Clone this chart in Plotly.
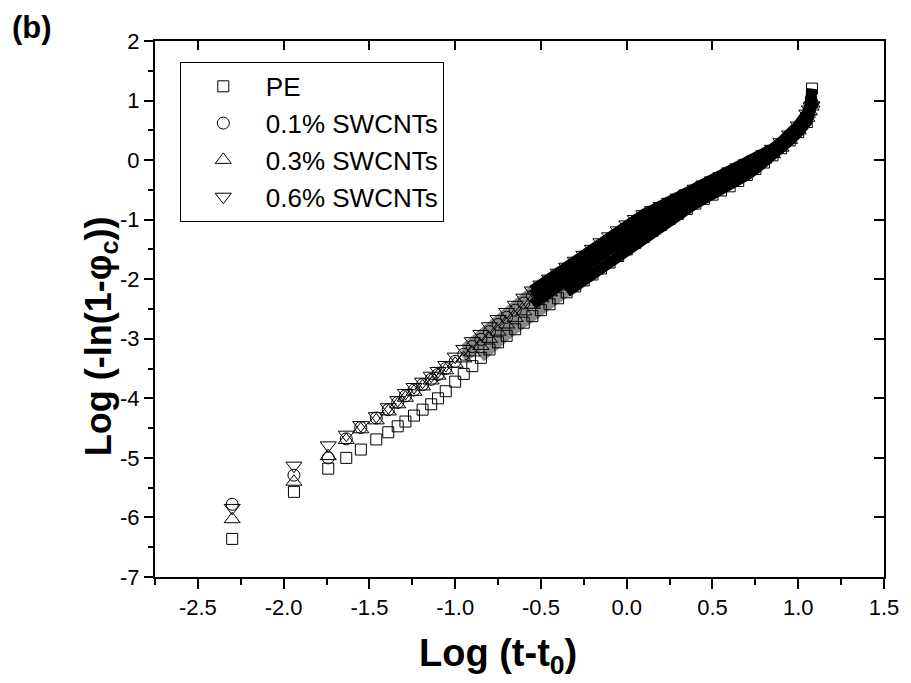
import plotly.graph_objects as go

# Avrami plot, log(-ln(1-phi_c)) vs log(t-t0)
log_t = [-2.30, -1.94, -1.74, -1.635, -1.55, -1.46, -1.39, -1.335, -1.29, -1.24,
         -1.19, -1.14, -1.10, -1.055,
         -1.00, -0.95, -0.90, -0.85, -0.80, -0.75, -0.70, -0.65, -0.60, -0.55,
         -0.50, -0.45, -0.40, -0.35, -0.30, -0.25, -0.20, -0.15, -0.10, -0.05,
         0.00, 0.05, 0.10, 0.15, 0.20, 0.25, 0.30, 0.35, 0.40, 0.45,
         0.50, 0.55, 0.60, 0.65, 0.70, 0.75, 0.80, 0.85, 0.90, 0.95,
         1.00, 1.05, 1.065, 1.075, 1.08]

pe = [-6.36, -5.57, -5.18, -5.00, -4.86, -4.69, -4.57, -4.47, -4.39, -4.29,
      -4.19, -4.10, -4.00, -3.88,
      -3.72, -3.59, -3.46, -3.32, -3.18, -3.06, -2.95, -2.84, -2.73, -2.62,
      -2.52, -2.42, -2.32, -2.22, -2.12, -2.02, -1.92, -1.82, -1.72, -1.61,
      -1.50, -1.39, -1.29, -1.19, -1.09, -0.99, -0.90, -0.82, -0.73, -0.65,
      -0.58, -0.51, -0.44, -0.35, -0.25, -0.15, -0.04, 0.08, 0.20, 0.33,
      0.47, 0.64, 0.80, 0.98, 1.20]

swcnt_01 = [-5.78, -5.29, -5.00, -4.68, -4.49, -4.33, -4.19, -4.07, -3.96, -3.86,
            -3.77, -3.68, -3.60, -3.50,
            -3.38, -3.26, -3.13, -3.01, -2.88, -2.76, -2.64, -2.52, -2.40, -2.28,
            -2.18, -2.08, -1.98, -1.88, -1.78, -1.68, -1.58, -1.47, -1.37, -1.27,
            -1.17, -1.08, -1.00, -0.93, -0.86, -0.79, -0.72, -0.65, -0.57, -0.50,
            -0.43, -0.35, -0.27, -0.19, -0.12, -0.04, 0.05, 0.14, 0.25, 0.38,
            0.53, 0.74, 0.84, 0.92, 0.97]

swcnt_03 = [-6.03, -5.40, -4.97, -4.70, -4.52, -4.37, -4.22, -4.10, -3.99, -3.89,
            -3.80, -3.70, -3.62, -3.53,
            -3.42, -3.33, -3.23, -3.12, -3.00, -2.88, -2.76, -2.65, -2.54, -2.43,
            -2.32, -2.22, -2.12, -2.02, -1.92, -1.81, -1.71, -1.60, -1.50, -1.40,
            -1.30, -1.20, -1.11, -1.03, -0.95, -0.87, -0.79, -0.71, -0.63, -0.55,
            -0.48, -0.40, -0.32, -0.24, -0.16, -0.08, 0.01, 0.10, 0.21, 0.34,
            0.50, 0.71, 0.82, 0.90, 0.95]

swcnt_06 = [-5.84, -5.13, -4.79, -4.61, -4.45, -4.30, -4.15, -4.03, -3.91, -3.81,
            -3.72, -3.62, -3.54, -3.44,
            -3.30, -3.17, -3.04, -2.92, -2.79, -2.67, -2.55, -2.43, -2.31, -2.19,
            -2.09, -1.99, -1.89, -1.79, -1.69, -1.59, -1.49, -1.38, -1.28, -1.18,
            -1.08, -0.99, -0.91, -0.84, -0.77, -0.70, -0.63, -0.56, -0.48, -0.41,
            -0.34, -0.27, -0.19, -0.12, -0.05, 0.02, 0.10, 0.19, 0.30, 0.43,
            0.58, 0.78, 0.85, 0.90, 0.92]

x_ticks = [-2.5, -2.0, -1.5, -1.0, -0.5, 0.0, 0.5, 1.0, 1.5]
x_labels = ['-2.5', '-2.0', '-1.5', '-1.0', '-0.5', '0.0', '0.5', '1.0', '1.5']
y_ticks = [2, 1, 0, -1, -2, -3, -4, -5, -6, -7]
y_labels = ['2', '1', '0', '-1', '-2', '-3', '-4', '-5', '-6', '-7']

# name, values, symbol, size, where the points start to blur (grey), turn solid (black)
series = [
    ('PE', pe, 'square-open', 11, -0.85, -0.35),
    ('0.1% SWCNTs', swcnt_01, 'circle-open', 12, -0.95, -0.55),
    ('0.3% SWCNTs', swcnt_03, 'triangle-up-open', 14, -0.95, -0.55),
    ('0.6% SWCNTs', swcnt_06, 'triangle-down-open', 14, -0.95, -0.55),
]

FONT = 'Liberation Sans, Arial, sans-serif'
X_RANGE = [-2.75, 1.5]
Y_RANGE = [-7, 2]

fig = go.Figure()

# later points sit so close together in the original that the outlines
# merge into a band: grey where still striped, black once solid
for name, y, sym, size, grey_at, black_at in series:
    g = log_t.index(grey_at)
    b = log_t.index(black_at)
    fig.add_trace(go.Scatter(x=log_t[g:b + 1], y=y[g:b + 1], mode='lines',
                             line=dict(color='#8a8a8a', width=9),
                             showlegend=False, hoverinfo='skip'))
for name, y, sym, size, grey_at, black_at in series:
    b = log_t.index(black_at)
    fig.add_trace(go.Scatter(x=log_t[b:], y=y[b:], mode='lines',
                             line=dict(color='black', width=11),
                             showlegend=False, hoverinfo='skip'))

for name, y, sym, size, grey_at, black_at in series:
    fig.add_trace(go.Scatter(x=log_t, y=y, mode='markers', name=name,
                             marker=dict(symbol=sym, size=size, color='black',
                                         line=dict(width=1, color='black'))))

# empty trace so the top/right tick axes get drawn
fig.add_trace(go.Scatter(x=[], y=[], xaxis='x2', yaxis='y2', showlegend=False,
                         hoverinfo='skip'))

axis_common = dict(showline=True, linewidth=2, linecolor='black', mirror=True,
                   showgrid=False, zeroline=False, tickcolor='black', tickwidth=2)

fig.update_layout(
    width=903, height=675,
    margin=dict(l=147, r=24, t=33, b=106),
    plot_bgcolor='white', paper_bgcolor='white',
    font=dict(family=FONT, color='black', size=22),
    showlegend=True,
    legend=dict(x=0.034, y=0.961, xanchor='left', yanchor='top',
                bordercolor='black', borderwidth=1, bgcolor='white',
                font=dict(size=26), itemwidth=75, tracegroupgap=0),
    xaxis=dict(range=X_RANGE, tickvals=x_ticks, ticktext=x_labels,
               ticks='outside', ticklen=10,
               minor=dict(dtick=0.25, tick0=-2.5, ticks='outside', ticklen=6,
                          tickwidth=2, tickcolor='black'),
               tickfont=dict(size=22), **axis_common),
    yaxis=dict(range=Y_RANGE, tickvals=y_ticks, ticktext=y_labels,
               ticks='outside', ticklen=9,
               minor=dict(dtick=0.5, ticks='outside', ticklen=5,
                          tickwidth=2, tickcolor='black'),
               tickfont=dict(size=22), **axis_common),
    # ticks on the top and right frame point inwards
    xaxis2=dict(range=X_RANGE, overlaying='x', side='top', tickvals=x_ticks,
                ticks='inside', ticklen=9, showticklabels=False, **axis_common),
    yaxis2=dict(range=Y_RANGE, overlaying='y', side='right', tickvals=y_ticks,
                ticks='inside', ticklen=10, showticklabels=False, **axis_common),
)

fig.add_annotation(text='<b>Log (-ln(1-φ<sub>c</sub>))</b>', xref='paper', yref='paper',
                   x=-0.075, y=0.45, xanchor='center', yanchor='middle',
                   textangle=-90, showarrow=False, font=dict(size=36))

fig.add_annotation(text='<b>Log (t-t<sub>0</sub>)</b>', xref='paper', yref='paper',
                   x=0.471, y=-0.098, xanchor='center', yanchor='top',
                   showarrow=False, font=dict(size=38))

fig.add_annotation(text='<b>(b)</b>', xref='paper', yref='paper',
                   x=-0.199, y=1.0616, xanchor='left', yanchor='top',
                   showarrow=False, font=dict(size=31))

fig.write_html("out.html")
